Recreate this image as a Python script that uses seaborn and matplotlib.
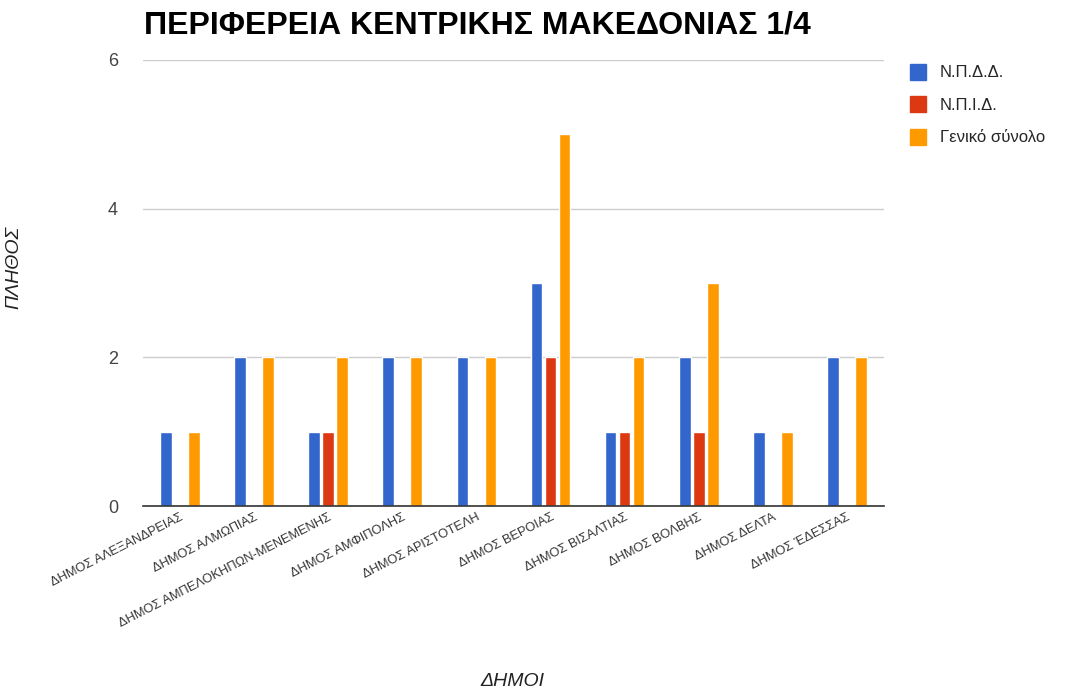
import numpy as np
import pandas as pd
import seaborn as sns
import matplotlib.pyplot as plt
from matplotlib.patches import Patch

dimoi = ["ΔΗΜΟΣ ΑΛΕΞΑΝΔΡΕΙΑΣ", "ΔΗΜΟΣ ΑΛΜΩΠΙΑΣ", "ΔΗΜΟΣ ΑΜΠΕΛΟΚΗΠΩΝ-ΜΕΝΕΜΕΝΗΣ",
         "ΔΗΜΟΣ ΑΜΦΙΠΟΛΗΣ", "ΔΗΜΟΣ ΑΡΙΣΤΟΤΕΛΗ", "ΔΗΜΟΣ ΒΕΡΟΙΑΣ", "ΔΗΜΟΣ ΒΙΣΑΛΤΙΑΣ",
         "ΔΗΜΟΣ ΒΟΛΒΗΣ", "ΔΗΜΟΣ ΔΕΛΤΑ", "ΔΗΜΟΣ ΈΔΕΣΣΑΣ"]
npdd = [1, 2, 1, 2, 2, 3, 1, 2, 1, 2]
npid = [0, 0, 1, 0, 0, 2, 1, 1, 0, 0]
synolo = [1, 2, 2, 2, 2, 5, 2, 3, 1, 2]
series = ["Ν.Π.Δ.Δ.", "Ν.Π.Ι.Δ.", "Γενικό σύνολο"]
colors = ["#3366cc", "#dc3912", "#ff9900"]

df = pd.DataFrame({"Δήμος": dimoi * 3,
                   "Σειρά": [series[0]] * 10 + [series[1]] * 10 + [series[2]] * 10,
                   "Πλήθος": npdd + npid + synolo})

sns.set_style("white")
plt.rcParams['font.family'] = ['Liberation Sans', 'DejaVu Sans']

fig = plt.figure(figsize=(10.7, 6.97), dpi=100)
ax = fig.add_axes([0.1336, 0.274, 0.6925, 0.640])
sns.barplot(data=df, x="Δήμος", y="Πλήθος", hue="Σειρά", palette=colors,
            width=0.567, gap=0.165, ax=ax, legend=False, saturation=1)

ax.set_ylim(0, 6)
ax.set_xlim(-0.5, 9.5)
ax.set_yticks([0, 2, 4, 6])
ax.tick_params(axis='y', labelsize=13, colors='#444444', length=0, pad=18)
ax.tick_params(axis='x', length=0, pad=4)
ax.set_xticks(range(len(dimoi)))
ax.set_xticklabels(dimoi, rotation=27, ha='right', rotation_mode='anchor',
                   fontsize=9.3, color='#333333')
ax.grid(axis='y', color='#cccccc', linewidth=1)
ax.set_axisbelow(True)
for s in ['top', 'right', 'left']:
    ax.spines[s].set_visible(False)
ax.spines['bottom'].set_color('#333333')
ax.spines['bottom'].set_linewidth(1.2)

ax.set_ylabel("ΠΛΗΘΟΣ", fontsize=14, style='italic', color='#222222')
ax.yaxis.set_label_coords(-0.163, 0.534)
ax.set_xlabel("ΔΗΜΟΙ", fontsize=14, style='italic', color='#222222')
ax.xaxis.set_label_coords(0.498, -0.374)

fig.text(0.135, 0.964, "ΠΕΡΙΦΕΡΕΙΑ ΚΕΝΤΡΙΚΗΣ ΜΑΚΕΔΟΝΙΑΣ 1/4", fontsize=23,
         fontweight='bold', va='center', ha='left', color='black')

handles = [Patch(color=c, label=l) for c, l in zip(colors, series)]
fig.legend(handles=handles, loc='upper left', bbox_to_anchor=(0.836, 0.93),
           frameon=False, fontsize=12, handlelength=1.0, handleheight=1.1,
           labelspacing=0.95, handletextpad=0.8)

fig.savefig("out.png", dpi=100)
